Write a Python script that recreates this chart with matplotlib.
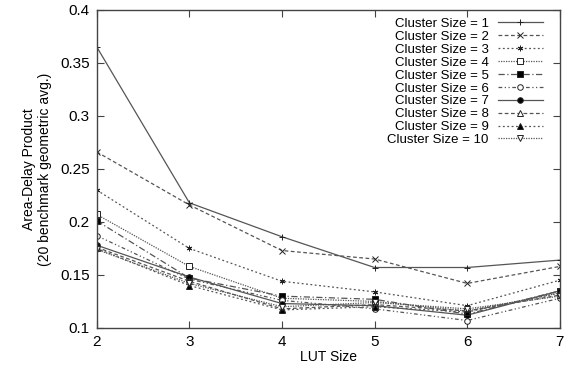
import matplotlib
matplotlib.use('Agg')
import matplotlib.pyplot as plt

plt.rcParams['font.family'] = ['Liberation Sans', 'DejaVu Sans']

# LUT sizes on the x axis
lut_size = [2, 3, 4, 5, 6, 7]

# area-delay product per cluster size
cs1 = [0.365, 0.218, 0.186, 0.157, 0.157, 0.164]
cs2 = [0.266, 0.216, 0.173, 0.165, 0.142, 0.158]
cs3 = [0.230, 0.175, 0.144, 0.134, 0.121, 0.145]
cs4 = [0.207, 0.158, 0.128, 0.125, 0.116, 0.133]
cs5 = [0.201, 0.147, 0.130, 0.127, 0.113, 0.135]
cs6 = [0.187, 0.146, 0.126, 0.118, 0.107, 0.128]
cs7 = [0.178, 0.148, 0.123, 0.121, 0.112, 0.135]
cs8 = [0.176, 0.144, 0.118, 0.122, 0.116, 0.131]
cs9 = [0.175, 0.140, 0.117, 0.120, 0.115, 0.133]
cs10 = [0.174, 0.142, 0.120, 0.124, 0.118, 0.130]

series = [cs1, cs2, cs3, cs4, cs5, cs6, cs7, cs8, cs9, cs10]
labels = ['Cluster Size = %d' % (i + 1) for i in range(10)]

# gnuplot-ish styles: (linestyle, marker, filled)
styles = [
    ('-', '+', True),
    ((0, (3, 2)), 'x', True),
    ((0, (1.5, 2)), (6, 2, 0), True),
    ((0, (1, 1)), 's', False),
    ((0, (5, 2, 1, 2)), 's', True),
    ((0, (3, 2, 1, 2, 1, 2)), 'o', False),
    ('-', 'o', True),
    ((0, (3, 2)), '^', False),
    ((0, (1.5, 2)), '^', True),
    ((0, (1, 1)), 'v', False),
]

fig = plt.figure(figsize=(5.66, 3.66), dpi=100)
ax = fig.add_axes([0.171, 0.104, 0.818, 0.869])

line_col = '#555555'
for vals, lab, (ls, mk, filled) in zip(series, labels, styles):
    ax.plot(lut_size, vals, linestyle=ls, marker=mk, color=line_col, lw=0.9,
            markersize=4 if mk not in ('+', 'x') else 5,
            markerfacecolor='black' if filled else 'white',
            markeredgecolor='#222222', markeredgewidth=0.7, label=lab)

ax.set_xlim(2, 7)
ax.set_ylim(0.1, 0.4)
ax.set_xticks(lut_size)
ax.set_yticks([0.1, 0.15, 0.2, 0.25, 0.3, 0.35, 0.4])
ax.set_yticklabels(['0.1', '0.15', '0.2', '0.25', '0.3', '0.35', '0.4'])
ax.tick_params(direction='in', top=True, right=True, length=5, width=0.8,
               labelsize=11, color='#444444', pad=5)
for sp in ax.spines.values():
    sp.set_color('#444444')
    sp.set_linewidth(1.0)

ax.set_xlabel('LUT Size', fontsize=10, labelpad=1)
ax.set_ylabel('Area-Delay Product\n(20 benchmark geometric avg.)', fontsize=10, labelpad=6)

leg = ax.legend(loc='upper right', frameon=False, markerfirst=False, fontsize=9.5,
                handlelength=3.4, labelspacing=0.05, borderaxespad=0.2,
                handletextpad=0.7, bbox_to_anchor=(0.98, 1.0))

fig.savefig('out.png', dpi=100)
